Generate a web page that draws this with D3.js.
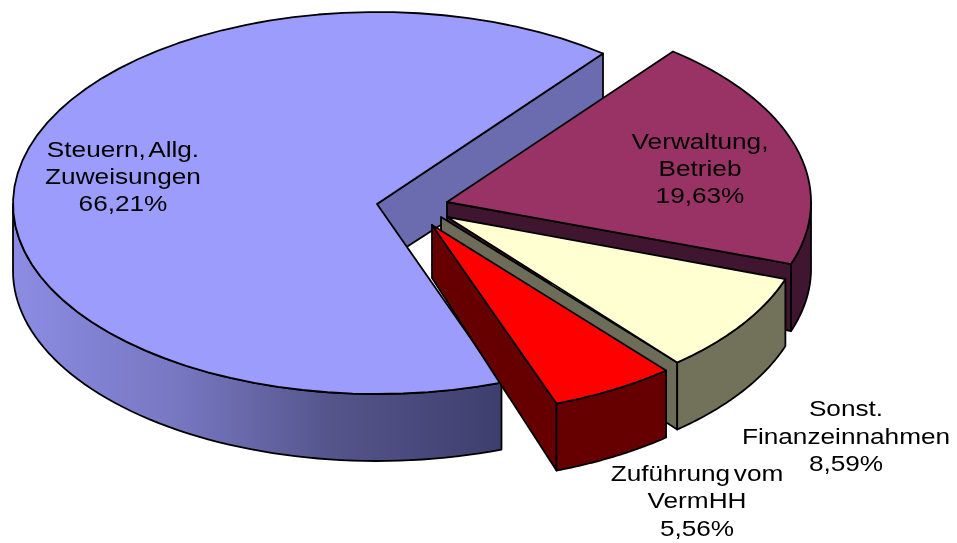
<!DOCTYPE html>
<html><head><meta charset="utf-8">
<script src="https://cdnjs.cloudflare.com/ajax/libs/d3/7.8.5/d3.min.js"></script>
<style>html,body{margin:0;padding:0;background:#fff}svg{display:block;filter:blur(0.4px)}
text{font-family:"Liberation Sans",Arial,sans-serif;font-size:22.5px;fill:#000;text-anchor:middle;word-spacing:-3px}</style>
</head><body><svg id="c" width="957" height="543"></svg>
<script>
// Data
const categories = ["Steuern, Allg. Zuweisungen","Verwaltung, Betrieb","Sonst. Finanzeinnahmen","Zuführung vom VermHH"];
const values = [66.21,19.63,8.59,5.56];
const labelLines = [["Steuern, Allg.","Zuweisungen","66,21%"],["Verwaltung,","Betrieb","19,63%"],["Sonst.","Finanzeinnahmen","8,59%"],["Zuführung vom","VermHH","5,56%"]];
// Styling / layout
const topColors = ["#9c9cfd","#993366","#ffffd2","#ff0000"];
const edgeColors = ["#6b6bb0","#40152f","#6c6c58","#660000"];
const wallColors = ["url(#mainWall)","#40152f","#72725a","#660000"];
const centersX = [377,447,447,432];
const centersY = [204,202,217,225];
const radiiX = [364,364,358,364];
const edgeShift = [0,0,6,0];
const labelX = [123,700,846,697];
const labelY = [[157,184,211],[149,176,203],[416,444,471],[481,508,536]];
const ryBack = 192, ryFront = 190, rimDepth = 67, textStretch = 1.165;
const apexDepth = [62,60,60,53];

const svg = d3.select("#c");
const grad = svg.append("defs").append("linearGradient").attr("id","mainWall")
  .attr("gradientUnits","userSpaceOnUse").attr("x1",13).attr("x2",500).attr("y1",0).attr("y2",0);
[[0,"#8c8ce4"],[.35,"#7676c0"],[.65,"#55558c"],[1,"#3e3e6e"]].forEach(([o,c])=>grad.append("stop").attr("offset",o).attr("stop-color",c));

const pie = d3.pie().sort(null).startAngle(160*Math.PI/180).endAngle(520*Math.PI/180);
const arcs = pie(values);
const line = d3.line();
const H = Math.PI/2;

arcs.forEach((a,i)=>{
  const cx=centersX[i], cy=centersY[i], rx=radiiX[i];
  const pt=t=>{const c=Math.cos(t);return [cx+rx*Math.sin(t), cy-(c>0?ryBack:ryFront)*c];};
  const samples=(s,e)=>d3.range(0,61).map(k=>pt(s+(e-s)*k/60));
  const g=svg.append("g");
  const style=(sel,fill)=>sel.attr("fill",fill).attr("stroke","#000").attr("stroke-width",1.8).attr("stroke-linejoin","round");
  // end-edge cut face
  const e=pt(a.endAngle), ax=cx-edgeShift[i];
  style(g.append("path").attr("d",line([[ax,cy],e,[e[0],e[1]+rimDepth],[ax,cy+apexDepth[i]]])+"Z"),edgeColors[i]);
  // outer front wall
  const mod=2*Math.PI;
  for(const k of [0,1]){
    const s=Math.max(a.startAngle,H+k*mod), en=Math.min(a.endAngle,3*H+k*mod);
    if(en>s){
      const top=samples(s,en), bot=top.map(p=>[p[0],p[1]+rimDepth]).reverse();
      style(g.append("path").attr("d",line(top.concat(bot))+"Z"),wallColors[i]);
    }
  }
  // top face
  style(g.append("path").attr("d",line([[cx,cy]].concat(samples(a.startAngle,a.endAngle)))+"Z"),topColors[i]);
});
labelLines.forEach((ls,i)=>ls.forEach((t,j)=>svg.append("text")
  .attr("transform",`translate(${labelX[i]},${labelY[i][j]}) scale(${textStretch},1)`).text(t)));
</script></body></html>
